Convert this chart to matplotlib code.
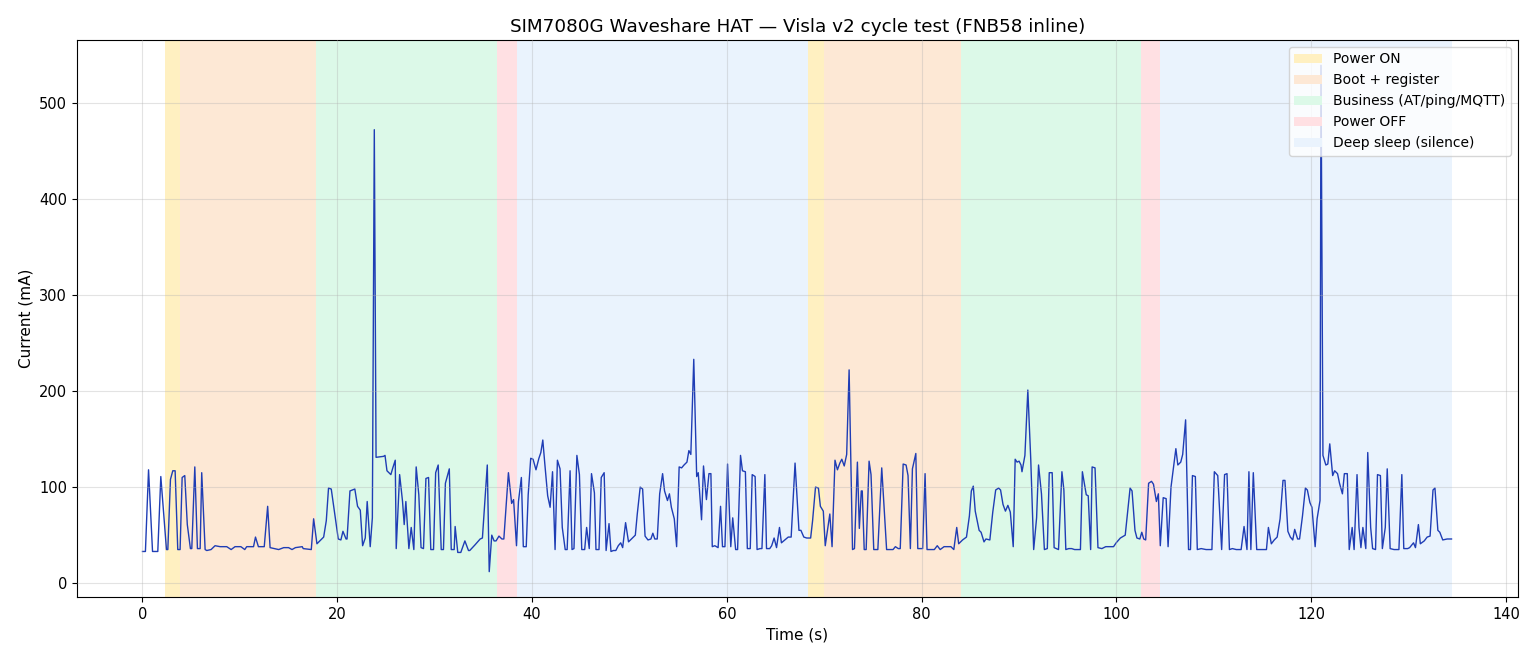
import matplotlib
matplotlib.use("Agg")
import matplotlib.pyplot as plt
from matplotlib.patches import Patch

# ---- data -------------------------------------------------------------
time_s = [
    0.0, 0.3, 0.62, 1.03, 1.57, 1.88, 2.46, 2.6, 2.87, 3.11, 3.35, 3.62, 3.86, 4.07, 4.34, 4.6, 4.92, 5.06,
    5.37, 5.64, 5.92, 6.08, 6.43, 6.6, 7.04, 7.45, 7.97, 8.65, 9.1, 9.5, 10.1, 10.5, 10.7, 11.4, 11.6, 11.9,
    12.5, 12.85, 13.1,
    13.98, 14.5, 15.0, 15.35, 15.7, 16.4, 16.5, 17.33, 17.57, 17.91, 18.6, 18.87, 19.1, 19.38, 19.8, 20.1,
    20.37, 20.58, 20.9, 21.0, 21.3, 21.8, 22.08, 22.36, 22.6, 22.87, 23.07, 23.38, 23.6, 23.8, 23.98, 24.75,
    24.9, 25.1, 25.5, 25.7, 25.95, 26.05, 26.4, 26.7,
    26.87, 27.04, 27.35, 27.59, 27.86, 28.1, 28.37, 28.6, 28.85, 29.1, 29.37, 29.6, 29.88, 30.1, 30.36,
    30.67, 30.9, 31.1, 31.5, 31.7, 32.0, 32.1, 32.37, 32.68, 33.1, 33.47, 33.6, 34.15, 34.67, 34.9, 35.4,
    35.6, 35.86, 36.1, 36.3, 36.6, 36.9, 37.1, 37.57, 37.9, 38.1, 38.4, 38.6, 38.9, 39.1, 39.4, 39.6, 39.86,
    40.1, 40.4, 40.7, 40.9, 41.1, 41.3, 41.6, 41.85, 42.1, 42.36, 42.6, 42.87, 43.1, 43.4, 43.6, 43.9, 44.1,
    44.3, 44.6, 44.86, 45.1, 45.4, 45.6, 45.87, 46.1, 46.4, 46.56, 46.87, 47.1, 47.4, 47.6, 47.9, 48.1,
    48.35, 48.6, 48.85, 49.1, 49.3, 49.6, 49.9, 50.2, 50.6, 50.8, 51.1, 51.35, 51.6, 51.9, 52.2, 52.4, 52.6,
    52.85, 53.1, 53.4, 53.6,
    53.9, 54.1, 54.3, 54.6, 54.84, 55.1, 55.35, 55.6, 55.9, 56.1, 56.3, 56.6, 56.9, 57.06, 57.4, 57.6, 57.9,
    58.16, 58.36, 58.5, 58.76, 59.1, 59.35, 59.55, 59.8, 60.07, 60.4, 60.6, 60.9, 61.1, 61.4, 61.6, 61.9,
    62.1, 62.4, 62.6, 62.9, 63.1, 63.4, 63.6, 63.9, 64.07, 64.4, 64.6, 64.85, 65.1, 65.4, 65.6, 65.95, 66.3,
    66.6, 67.0,
    67.4, 67.6, 67.9, 68.2, 68.6, 68.8, 69.1, 69.4, 69.6, 69.9, 70.1, 70.3, 70.57, 70.8, 71.1, 71.35, 71.6,
    71.8, 72.05, 72.3, 72.55, 72.9, 73.1, 73.4, 73.6, 73.8, 73.9, 74.1, 74.3, 74.6, 74.8, 75.08, 75.5, 75.9,
    76.4, 77.06, 77.3, 77.6, 77.8, 78.1, 78.4, 78.6, 78.84, 79.05, 79.4, 79.6, 80.1, 80.35,
    80.55, 81.0, 81.3, 81.6, 81.9, 82.3, 83.0, 83.3, 83.6, 83.8, 84.2, 84.6, 84.9, 85.1, 85.3, 85.5, 85.9,
    86.1, 86.4, 86.6, 87.0, 87.3, 87.6, 87.9, 88.1, 88.35, 88.6, 88.85, 89.1, 89.4, 89.6, 89.8, 90.0, 90.2,
    90.3, 90.6, 90.9, 91.2, 91.5, 91.8, 92.0, 92.3, 92.6, 92.9, 93.1, 93.4, 93.6,
    94.05, 94.4, 94.6, 94.8, 95.1, 95.4, 95.7, 96.3, 96.5, 96.9, 97.1, 97.35, 97.5, 97.8, 98.1, 98.5, 98.9,
    99.3, 99.7, 99.97, 100.4, 100.9, 101.4, 101.6, 101.9, 102.1, 102.4, 102.6, 102.8, 103.0, 103.3, 103.6,
    103.8, 104.1, 104.3, 104.5, 104.8, 105.1, 105.3, 105.6, 105.9, 106.1, 106.3, 106.6, 106.8, 107.1,
    107.4, 107.6, 107.8, 108.1, 108.3, 108.7, 109.2, 109.8, 110.05, 110.4, 110.8, 111.1, 111.35, 111.6,
    111.9, 112.3, 112.8, 113.1, 113.4, 113.6, 113.8, 114.05, 114.4, 114.8, 115.4, 115.6, 115.9, 116.2,
    116.5, 116.8, 117.1, 117.3, 117.6, 117.85, 118.1, 118.3, 118.6, 118.8, 119.1, 119.4, 119.6, 119.86,
    120.07, 120.4,
    120.6, 120.9, 121.0, 121.2, 121.5, 121.7, 121.9, 122.2, 122.4, 122.7, 122.9, 123.2, 123.4, 123.7,
    123.9, 124.2, 124.4, 124.7, 124.9, 125.1, 125.3, 125.6, 125.8, 126.1, 126.3, 126.6, 126.8, 127.1,
    127.3, 127.6, 127.8, 128.1, 128.5, 129.0, 129.3, 129.5, 129.9, 130.1, 130.5, 130.7, 131.0, 131.2,
    131.6, 131.9, 132.2, 132.5, 132.7, 133.0, 133.2, 133.5, 133.95, 134.4,
]

current_ma = [
    33, 33, 118, 33, 33, 111, 35, 35, 108, 117, 117, 35, 35, 110, 112, 61, 36, 36,
    121, 36, 36, 115, 35, 34, 35, 39, 38, 38, 35, 38, 38, 35, 38, 38, 48, 38,
    38, 80, 37,
    35, 37, 37, 35, 37, 38, 36, 35, 67, 41, 48, 65, 99, 98, 68, 46,
    45, 54, 46, 46, 96, 98, 80, 76, 39, 47, 85, 38, 68, 472, 131, 132,
    133, 117, 113, 120, 128, 36, 113, 85,
    61, 85, 36, 58, 35, 121, 92, 37, 36, 109, 110, 35, 35, 115, 123,
    35, 35, 104, 119, 35, 35, 59, 32, 32, 44, 34, 34, 40, 46, 47, 123,
    12, 50, 44, 44, 49, 46, 46, 115, 83, 87, 39, 85, 110, 38, 38, 92, 130,
    129, 118, 130, 136, 149, 125, 91, 79, 116, 35, 128, 119, 58, 35, 35, 117, 35,
    36, 133, 113, 35, 35, 58, 36, 114, 94, 35, 35, 110, 115, 34, 62, 33,
    34, 34, 39, 42, 37, 63, 43, 46, 50, 72, 100, 98, 49, 45, 46, 52, 46,
    46, 93, 114, 96,
    86, 93, 79, 67, 38, 121, 120, 123, 126, 138, 134, 233, 111, 115, 66, 122, 87,
    114, 114, 38, 39, 37, 80, 38, 38, 124, 38, 68, 35, 35, 133, 117, 116,
    36, 36, 113, 111, 35, 36, 36, 113, 36, 36, 39, 47, 37, 58, 42, 45, 48,
    48, 125,
    55, 55, 48, 47, 47, 65, 100, 99, 80, 75, 39, 53, 72, 38, 128, 118, 125,
    129, 122, 134, 222, 35, 36, 126, 57, 96, 96, 35, 35, 127, 113, 35, 35, 120,
    35, 35, 38, 36, 36, 124, 123, 112, 36, 119, 135, 36, 36, 114,
    35, 35, 35, 39, 35, 38, 38, 35, 58, 41, 45, 48, 70, 96, 101, 75, 55,
    53, 43, 46, 45, 74, 97, 99, 97, 82, 75, 81, 74, 38, 129, 126, 127, 123,
    116, 133, 201, 129, 35, 68, 123, 93, 35, 36, 115, 115, 37,
    35, 116, 97, 35, 36, 36, 35, 35, 116, 92, 91, 35, 121, 120, 37, 36, 38,
    38, 38, 42, 47, 50, 99, 96, 55, 47, 46, 53, 46, 45, 104, 106,
    103, 85, 93, 39, 89, 88, 38, 100, 124, 140, 123, 126, 134, 170,
    35, 35, 112, 111, 35, 36, 35, 35, 116, 112, 35, 113, 114, 35,
    36, 35, 35, 59, 35, 116, 35, 115, 35, 35, 35, 58, 41, 45,
    48, 67, 107, 107, 54, 48, 45, 56, 46, 46, 70, 99, 97, 84,
    79, 38,
    67, 86, 539, 133, 123, 124, 145, 112, 117, 114, 104, 93, 114, 114,
    35, 58, 35, 113, 58, 37, 58, 36, 136, 58, 36, 35, 113, 112,
    36, 58, 119, 36, 35, 35, 113, 36, 36, 37, 42, 37, 61, 41,
    44, 48, 49, 97, 99, 55, 53, 45, 46, 46,
]

phase_names = ["Power ON", "Boot + register", "Business (AT/ping/MQTT)", "Power OFF", "Deep sleep (silence)"]
phase_colors = ["#fff0c1", "#fde8d5", "#dcf9e8", "#ffe0e3", "#eaf3fd"]
# two cycles: (phase index, start s, end s)
phase_index = [0, 1, 2, 3, 4, 0, 1, 2, 3, 4]
phase_start = [2.36, 3.9, 17.85, 36.4, 38.4, 68.3, 69.95, 84.0, 102.5, 104.5]
phase_end = [3.9, 17.85, 36.4, 38.4, 68.3, 69.95, 84.0, 102.5, 104.5, 134.5]

# ---- plot -------------------------------------------------------------
fig, ax = plt.subplots(figsize=(15.4, 6.6), dpi=100)
fig.subplots_adjust(left=0.05, right=0.9857, top=0.9394, bottom=0.0955)

for idx, s, e in zip(phase_index, phase_start, phase_end):
    ax.axvspan(s, e, color=phase_colors[idx], lw=0, zorder=0.5)

ax.plot(time_s, current_ma, color="#1f3db5", lw=1.0, zorder=2)

ax.grid(True, color="#b0b0b0", alpha=0.35, lw=0.8)
ax.set_axisbelow(False)
for gl in ax.get_xgridlines() + ax.get_ygridlines():
    gl.set_zorder(1)

ax.set_xlabel("Time (s)", fontsize=11)
ax.set_ylabel("Current (mA)", fontsize=11)
ax.set_title("SIM7080G Waveshare HAT \u2014 Visla v2 cycle test (FNB58 inline)", fontsize=13.2)
ax.tick_params(labelsize=10.5)

handles = [Patch(facecolor=c, edgecolor="none", label=n) for n, c in zip(phase_names, phase_colors)]
ax.legend(handles=handles, loc="upper right", fontsize=10)

fig.savefig("out.png", dpi=100)
